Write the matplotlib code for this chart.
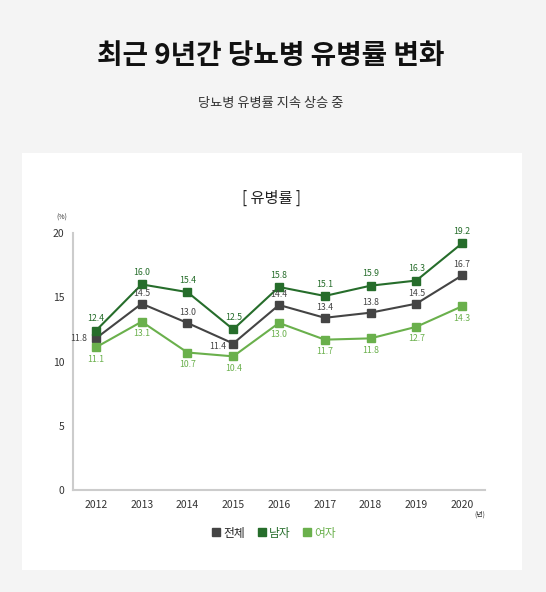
import matplotlib.pyplot as plt
from matplotlib.patches import Rectangle

plt.rcParams['font.family'] = ['Noto Sans CJK KR', 'DejaVu Sans']

years = ['2012', '2013', '2014', '2015', '2016', '2017', '2018', '2019', '2020']
total = [11.8, 14.5, 13.0, 11.4, 14.4, 13.4, 13.8, 14.5, 16.7]
men = [12.4, 16.0, 15.4, 12.5, 15.8, 15.1, 15.9, 16.3, 19.2]
women = [11.1, 13.1, 10.7, 10.4, 13.0, 11.7, 11.8, 12.7, 14.3]
series_names = ['전체', '남자', '여자']

c_total = '#444444'
c_men = '#266d2b'
c_women = '#6ab04c'

fig = plt.figure(figsize=(5.46, 5.92), dpi=100)
fig.patch.set_facecolor('#f4f4f4')

# white card
fig.patches.append(Rectangle((22 / 546, 1 - 570 / 592), 500 / 546, 417 / 592,
                             transform=fig.transFigure, facecolor='white',
                             edgecolor='none', zorder=-1))

fig.text(0.495, 1 - 56 / 592, '최근 9년간 당뇨병 유병률 변화', ha='center', va='center',
         fontsize=20, fontweight='heavy', color='#111111')
fig.text(0.495, 1 - 104 / 592, '당뇨병 유병률 지속 상승 중', ha='center', va='center',
         fontsize=9.5, color='#333333')
fig.text(0.498, 1 - 198 / 592, '[ 유병률 ]', ha='center', va='center',
         fontsize=11, color='#222222')

ax = fig.add_axes([73 / 546, 1 - 490 / 592, 412 / 546, 257 / 592])
ax.set_facecolor('none')
x = list(range(len(years)))

ax.plot(x, total, color=c_total, lw=1.5, marker='s', ms=5.5, zorder=3)
ax.plot(x, men, color=c_men, lw=1.5, marker='s', ms=5.5, zorder=3)
ax.plot(x, women, color=c_women, lw=1.5, marker='s', ms=5.5, zorder=3)

lab = dict(textcoords='offset points', fontsize=6.3, fontweight='medium')
for i in x:
    ax.annotate(f'{men[i]:.1f}', (i, men[i]), xytext=(0, 8.5), ha='center', va='center',
                color=c_men, **lab)
    ax.annotate(f'{women[i]:.1f}', (i, women[i]), xytext=(0, -8.5), ha='center', va='center',
                color=c_women, **lab)
    if i == 0:
        off, ha = (-6, 0), 'right'
    elif i == 3:
        off, ha = (-5, -2.5), 'right'
    else:
        off, ha = (0, 7.5), 'center'
    ax.annotate(f'{total[i]:.1f}', (i, total[i]), xytext=off, ha=ha, va='center',
                color=c_total, **lab)

ax.set_xlim(-0.5, 8.5)
ax.set_ylim(0, 20)
ax.set_yticks([0, 5, 10, 15, 20])
ax.set_xticks(x)
ax.set_xticklabels(years)
ax.tick_params(length=0, labelsize=7.5, colors='#333333')
ax.tick_params(axis='y', pad=6)
ax.tick_params(axis='x', pad=7)
for t in ax.get_xticklabels() + ax.get_yticklabels():
    t.set_fontweight('medium')
for s in ['top', 'right']:
    ax.spines[s].set_visible(False)
for s in ['left', 'bottom']:
    ax.spines[s].set_color('#cccccc')
    ax.spines[s].set_linewidth(1.5)

fig.text(62 / 546, 1 - 218 / 592, '(%)', ha='center', va='center', fontsize=5, color='#333333')
fig.text(480 / 546, 1 - 515 / 592, '(년)', ha='center', va='center', fontsize=5, color='#333333')

# legend
handles = [plt.Line2D([], [], color=c, marker='s', ls='none', ms=6)
           for c in [c_total, c_men, c_women]]
leg = fig.legend(handles, series_names, loc='center', bbox_to_anchor=(0.5, 1 - 533 / 592),
                 ncol=3, frameon=False, fontsize=8.5, handletextpad=0.1, columnspacing=0.9,
                 handlelength=1.0)
for t, c in zip(leg.get_texts(), ['#222222', c_men, c_women]):
    t.set_color(c)

fig.savefig('out.png', dpi=100, facecolor=fig.get_facecolor())
